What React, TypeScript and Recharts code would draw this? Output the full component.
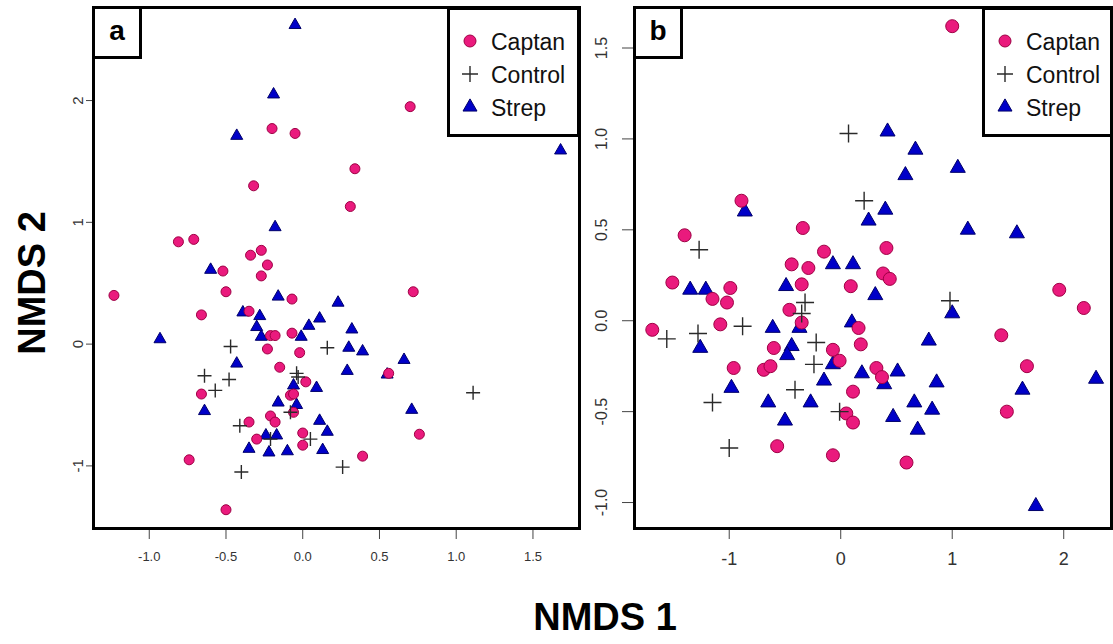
import React from 'react';
import { ScatterChart, Scatter, XAxis, YAxis, Legend } from 'recharts';

const seriesNames = ['Captan', 'Control', 'Strep'];

// Panel a (NMDS 1, NMDS 2)
const captanA: [number, number][] = [
  [-0.20, 1.77], [-0.05, 1.73], [-0.32, 1.30], [-0.81, 0.84], [-0.71, 0.86], [-0.34, 0.73],
  [-0.27, 0.77], [-0.23, 0.65], [-0.52, 0.60], [-0.27, 0.56], [0.70, 1.95], [0.34, 1.44],
  [0.31, 1.13], [0.72, 0.43], [-1.23, 0.40], [-0.50, 0.43], [-0.07, 0.37], [-0.66, 0.24],
  [-0.35, 0.27], [-0.21, 0.07], [-0.18, 0.07], [-0.07, 0.09], [-0.23, -0.04], [-0.02, -0.07],
  [-0.15, -0.19], [0.02, -0.31], [-0.66, -0.41], [-0.08, -0.42], [-0.06, -0.41], [-0.06, -0.56],
  [-0.21, -0.59], [-0.18, -0.64], [-0.35, -0.64], [-0.30, -0.78], [0.00, -0.73], [0.00, -0.83],
  [-0.74, -0.95], [-0.50, -1.36], [0.56, -0.24], [0.76, -0.74], [0.39, -0.92],
];
const controlA: [number, number][] = [
  [-0.47, -0.02], [-0.64, -0.26], [-0.57, -0.38], [-0.48, -0.29], [-0.04, -0.24], [-0.03, -0.27],
  [-0.08, -0.56], [-0.41, -0.67], [-0.21, -0.78], [0.05, -0.78], [-0.40, -1.05], [0.26, -1.01],
  [0.16, -0.03], [1.11, -0.40],
];
const strepA: [number, number][] = [
  [-0.05, 2.62], [-0.19, 2.05], [-0.43, 1.71], [-0.18, 0.96], [-0.60, 0.61], [1.68, 1.59],
  [-0.16, 0.39], [0.23, 0.34], [-0.39, 0.26], [-0.28, 0.23], [-0.30, 0.14], [-0.27, 0.06],
  [-0.01, 0.06], [0.04, 0.15], [0.11, 0.21], [-0.93, 0.04], [-0.43, -0.16], [-0.06, -0.34],
  [0.09, -0.36], [-0.16, -0.48], [-0.04, -0.50], [-0.64, -0.55], [0.11, -0.63], [0.16, -0.72],
  [-0.24, -0.75], [-0.17, -0.75], [-0.35, -0.86], [-0.22, -0.89], [-0.10, -0.88], [0.13, -0.87],
  [0.29, -0.22], [0.30, -0.03], [0.32, 0.12], [0.39, -0.06], [0.66, -0.13], [0.55, -0.25],
  [0.71, -0.54],
];

// Panel b
const captanB: [number, number][] = [
  [1.00, 1.62], [-0.89, 0.66], [-1.40, 0.47], [-0.34, 0.51], [-0.15, 0.38], [-0.44, 0.31],
  [-0.29, 0.29], [0.41, 0.40], [0.38, 0.26], [0.44, 0.23], [-1.51, 0.21], [-0.99, 0.18],
  [-1.15, 0.12], [-1.02, 0.10], [-0.46, 0.06], [-1.69, -0.05], [-1.08, -0.02], [-0.60, -0.15],
  [-0.96, -0.26], [-0.69, -0.27], [-0.63, -0.25], [-0.57, -0.69], [-0.35, 0.20], [0.09, 0.19],
  [-0.35, -0.01], [0.16, -0.04], [0.18, -0.13], [-0.07, -0.16], [-0.01, -0.22], [0.32, -0.26],
  [0.37, -0.31], [0.11, -0.39], [0.05, -0.51], [0.11, -0.56], [-0.07, -0.74], [0.59, -0.78],
  [1.96, 0.17], [2.18, 0.07], [1.44, -0.08], [1.67, -0.25], [1.49, -0.50],
];
const controlB: [number, number][] = [
  [0.07, 1.03], [0.21, 0.66], [-1.27, 0.39], [-1.56, -0.10], [-1.28, -0.07], [-0.88, -0.03],
  [-1.15, -0.45], [-1.00, -0.70], [-0.32, 0.10], [-0.35, 0.04], [-0.22, -0.12], [-0.24, -0.24],
  [-0.41, -0.38], [-0.01, -0.50], [0.98, 0.11],
];
const strepB: [number, number][] = [
  [-0.86, 0.60], [-0.07, 0.31], [0.11, 0.31], [0.42, 1.04], [0.67, 0.94], [0.58, 0.80],
  [1.05, 0.84], [0.40, 0.61], [0.25, 0.55], [1.14, 0.50], [1.58, 0.48], [-1.35, 0.17],
  [-1.21, 0.17], [-0.49, 0.19], [-1.26, -0.15], [-0.61, -0.04], [-0.44, -0.14], [-0.48, -0.19],
  [-0.98, -0.37], [-0.65, -0.45], [-0.50, -0.55], [0.31, 0.14], [0.10, -0.01], [-0.37, -0.04],
  [-0.07, -0.24], [-0.15, -0.33], [-0.27, -0.45], [0.19, -0.29], [0.39, -0.35], [0.51, -0.28],
  [0.79, -0.11], [0.86, -0.34], [0.66, -0.45], [0.82, -0.49], [0.47, -0.53], [0.69, -0.60],
  [1.00, 0.04], [1.63, -0.38], [2.29, -0.32], [1.75, -1.02],
];

const ticksAX = [-1, -0.5, 0, 0.5, 1, 1.5];
const ticksAY = [-1, 0, 1, 2];
const ticksBX = [-1, 0, 1, 2];
const ticksBY = [-1, -0.5, 0, 0.5, 1, 1.5];
const domainAX: [number, number] = [-1.36, 1.80];
const domainAY: [number, number] = [-1.51, 2.76];
const domainBX: [number, number] = [-1.845, 2.424];
const domainBY: [number, number] = [-1.14, 1.72];

const toPts = (a: [number, number][]) => a.map(([x, y]) => ({ x, y }));

const PINK = '#ea1a7d';
const PINK_EDGE = '#9e0044';
const BLUE = '#0000c8';
const BLUE_EDGE = '#00006a';
const CROSS = '#2a2a2a';
const FONT = '"Liberation Sans", Arial, sans-serif';

const makeCircle = (r: number) => (p: any) => (
  <circle cx={p.cx} cy={p.cy} r={r} fill={PINK} stroke={PINK_EDGE} strokeWidth={1} />
);
const makeCross = (s: number) => (p: any) => (
  <path d={`M${p.cx - s},${p.cy}H${p.cx + s}M${p.cx},${p.cy - s}V${p.cy + s}`} stroke={CROSS} strokeWidth={1.4} fill="none" />
);
const makeTri = (w: number) => (p: any) => {
  const h = w * 0.87;
  return (
    <polygon
      points={`${p.cx},${p.cy - (2 * h) / 3} ${p.cx - w / 2},${p.cy + h / 3} ${p.cx + w / 2},${p.cy + h / 3}`}
      fill={BLUE}
      stroke={BLUE_EDGE}
      strokeWidth={1}
    />
  );
};

const makeXTick = (fontSize: number, fmt: (v: number) => string) => (p: any) => (
  <text x={p.x} y={p.y} dy="0.71em" textAnchor="middle" fontSize={fontSize} fill="#333" fontFamily={FONT}>
    {fmt(p.payload.value)}
  </text>
);
const makeYTick = (fontSize: number, fmt: (v: number) => string) => (p: any) => (
  <text x={p.x} y={p.y} transform={`rotate(-90 ${p.x} ${p.y})`} textAnchor="middle" fontSize={fontSize} fill="#333" fontFamily={FONT}>
    {fmt(p.payload.value)}
  </text>
);

const fmt1 = (v: number) => v.toFixed(1);
const fmt0 = (v: number) => String(v);

const LegendBox = ({ width, height, r, s, w }: any) => {
  const rows = [34, 67, 100];
  const sx = 23;
  const h = w * 0.87;
  return (
    <svg width={width} height={height} style={{ display: 'block' }}>
      <rect x={1.5} y={1.5} width={width - 3} height={height - 3} fill="#fff" stroke="#000" strokeWidth={3} />
      <circle cx={sx} cy={rows[0]} r={r} fill={PINK} stroke={PINK_EDGE} strokeWidth={1} />
      <path d={`M${sx - s},${rows[1]}H${sx + s}M${sx},${rows[1] - s}V${rows[1] + s}`} stroke={CROSS} strokeWidth={1.4} />
      <polygon
        points={`${sx},${rows[2] - (2 * h) / 3} ${sx - w / 2},${rows[2] + h / 3} ${sx + w / 2},${rows[2] + h / 3}`}
        fill={BLUE}
        stroke={BLUE_EDGE}
      />
      {seriesNames.map((n, i) => (
        <text key={n} x={44} y={rows[i] + 8.5} fontSize={23} fontFamily={FONT} fill="#111">
          {n}
        </text>
      ))}
    </svg>
  );
};

const frame = (left: number, top: number, width: number, height: number): React.CSSProperties => ({
  position: 'absolute',
  left,
  top,
  width,
  height,
  border: '3px solid #000',
  boxSizing: 'border-box',
  pointerEvents: 'none',
});

const labelBox = (left: number, top: number): React.CSSProperties => ({
  position: 'absolute',
  left,
  top,
  width: 50,
  height: 53,
  border: '3px solid #000',
  boxSizing: 'border-box',
  background: '#fff',
  fontFamily: FONT,
  fontWeight: 'bold',
  fontSize: 28,
  lineHeight: '44px',
  textAlign: 'center',
  color: '#000',
});

export default function App() {
  return (
    <div style={{ position: 'absolute', left: 0, top: 0, width: 1113, height: 644, background: '#fff', overflow: 'hidden' }}>
      <div style={{ position: 'absolute', left: 0, top: 0 }}>
        <ScatterChart width={600} height={600} margin={{ top: 8, right: 21, bottom: 32, left: 54 }}>
          <XAxis
            type="number"
            dataKey="x"
            domain={domainAX}
            ticks={ticksAX}
            allowDataOverflow
            height={40}
            axisLine={false}
            tickSize={11}
            tickMargin={13}
            tickLine={{ stroke: '#444' }}
            tick={makeXTick(13, fmt1)}
            interval={0}
          />
          <YAxis
            type="number"
            dataKey="y"
            domain={domainAY}
            ticks={ticksAY}
            allowDataOverflow
            width={40}
            axisLine={false}
            tickSize={8}
            tickMargin={3}
            tickLine={{ stroke: '#444' }}
            tick={makeYTick(15, fmt0)}
            interval={0}
          />
          <Scatter name={seriesNames[2]} data={toPts(strepA)} shape={makeTri(12)} isAnimationActive={false} />
          <Scatter name={seriesNames[0]} data={toPts(captanA)} shape={makeCircle(5)} isAnimationActive={false} />
          <Scatter name={seriesNames[1]} data={toPts(controlA)} shape={makeCross(7)} isAnimationActive={false} />
          <Legend
            layout="vertical"
            align="center"
            verticalAlign="middle"
            wrapperStyle={{ left: 447, top: 7, width: 133, height: 130 }}
            content={() => <LegendBox width={133} height={130} r={6} s={8} w={14} />}
          />
        </ScatterChart>
      </div>
      <div style={{ position: 'absolute', left: 560, top: 0 }}>
        <ScatterChart width={553} height={600} margin={{ top: 8, right: 2, bottom: 32, left: 35 }}>
          <XAxis
            type="number"
            dataKey="x"
            domain={domainBX}
            ticks={ticksBX}
            allowDataOverflow
            height={40}
            axisLine={false}
            tickSize={11}
            tickMargin={13}
            tickLine={{ stroke: '#444' }}
            tick={makeXTick(18, fmt0)}
            interval={0}
          />
          <YAxis
            type="number"
            dataKey="y"
            domain={domainBY}
            ticks={ticksBY}
            allowDataOverflow
            width={40}
            axisLine={false}
            tickSize={13}
            tickMargin={15}
            tickLine={{ stroke: '#444' }}
            tick={makeYTick(16, fmt1)}
            interval={0}
          />
          <Scatter name={seriesNames[2]} data={toPts(strepB)} shape={makeTri(15)} isAnimationActive={false} />
          <Scatter name={seriesNames[0]} data={toPts(captanB)} shape={makeCircle(6.5)} isAnimationActive={false} />
          <Scatter name={seriesNames[1]} data={toPts(controlB)} shape={makeCross(9)} isAnimationActive={false} />
          <Legend
            layout="vertical"
            align="center"
            verticalAlign="middle"
            wrapperStyle={{ left: 422, top: 7, width: 131, height: 130 }}
            content={() => <LegendBox width={131} height={130} r={6} s={8} w={14} />}
          />
        </ScatterChart>
      </div>

      <div style={frame(92, 6, 489, 524)} />
      <div style={frame(633, 6, 480, 524)} />
      <div style={labelBox(92, 6)}>a</div>
      <div style={labelBox(633, 6)}>b</div>

      <div
        style={{
          position: 'absolute',
          left: 455,
          top: 595,
          width: 300,
          textAlign: 'center',
          fontFamily: FONT,
          fontWeight: 'bold',
          fontSize: 38,
          lineHeight: '44px',
          color: '#000',
        }}
      >
        NMDS 1
      </div>
      <div
        style={{
          position: 'absolute',
          left: 32 - 150,
          top: 283 - 22,
          width: 300,
          height: 44,
          textAlign: 'center',
          fontFamily: FONT,
          fontWeight: 'bold',
          fontSize: 38,
          lineHeight: '44px',
          color: '#000',
          transform: 'rotate(-90deg)',
        }}
      >
        NMDS 2
      </div>
    </div>
  );
}
